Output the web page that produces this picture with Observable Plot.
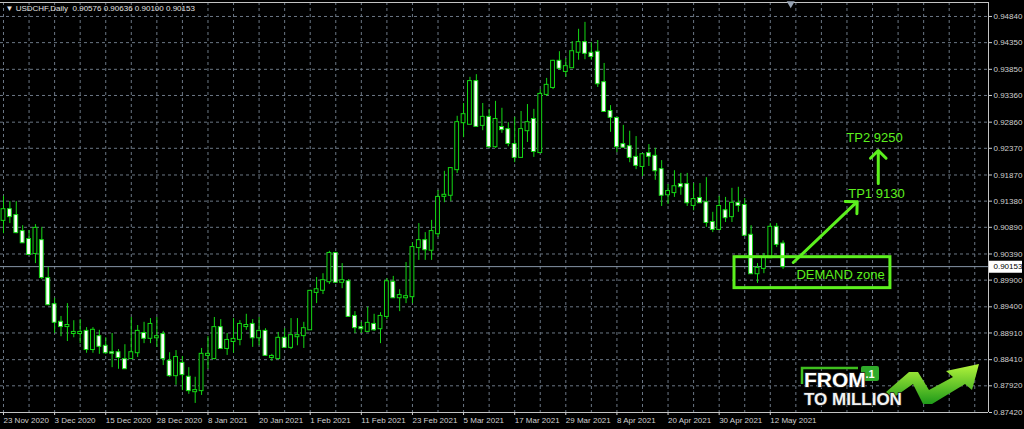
<!DOCTYPE html>
<html><head><meta charset="utf-8">
<script src="https://cdn.jsdelivr.net/npm/d3@7"></script>
<script src="https://cdn.jsdelivr.net/npm/@observablehq/plot@0.6"></script>
<style>
html,body{margin:0;padding:0;background:#000;}
#chart{width:1024px;height:429px;overflow:hidden;}
</style></head><body><div id="chart"></div>
<script>
// ---- data (daily USDCHF candles, 23 Nov 2020 .. 14 May 2021) ----
const symbolName = "USDCHF,Daily";
const opens = [
0.9102,0.9122,0.9111,0.9081,0.9066,0.9040,0.9064,0.8993,0.8944,0.8911,
0.8903,0.8890,0.8890,0.8894,0.8860,0.8884,0.8866,0.8854,0.8854,0.8841,
0.8843,0.8854,0.8890,0.8881,0.8882,0.8888,0.8838,0.8811,0.8834,0.8808,
0.8781,0.8783,0.8849,0.8843,0.8901,0.8862,0.8875,0.8879,0.8903,0.8907,
0.8882,0.8894,0.8845,0.8843,0.8881,0.8864,0.8884,0.8886,0.8897,0.8967,
0.8971,0.8987,0.9040,0.8986,0.8987,0.8922,0.8901,0.8894,0.8907,0.8899,
0.8922,0.8986,0.8957,0.8957,0.8959,0.9051,0.9064,0.9046,0.9077,0.9147,
0.9149,0.9197,0.9285,0.9282,0.9362,0.9280,0.9295,0.9240,0.9276,0.9272,
0.9244,0.9220,0.9270,0.9291,0.9229,0.9338,0.9351,0.9400,0.9381,0.9388,
0.9417,0.9435,0.9415,0.9417,0.9360,0.9306,0.9293,0.9244,0.9240,0.9220,
0.9203,0.9227,0.9222,0.9197,0.9150,0.9154,0.9169,0.9169,0.9130,0.9143,
0.9135,0.9098,0.9085,0.9120,0.9109,0.9134,0.9130,0.9074,0.9002,0.9012,
0.9032,0.9089,0.90576];
const highs = [
0.9147,0.9137,0.9137,0.9092,0.9083,0.9094,0.9089,0.9014,0.8956,0.8922,
0.8946,0.8914,0.8916,0.8901,0.8901,0.8896,0.8882,0.8890,0.8860,0.8869,
0.8920,0.8905,0.8911,0.8918,0.8920,0.8894,0.8854,0.8858,0.8847,0.8826,
0.8808,0.8862,0.8884,0.8920,0.8916,0.8890,0.8918,0.8914,0.8926,0.8916,
0.8920,0.8899,0.8851,0.8892,0.8899,0.8918,0.8918,0.8911,0.8971,0.8995,
0.9002,0.9044,0.9042,0.9021,0.8991,0.8931,0.8911,0.8939,0.8926,0.8929,
0.8993,0.8997,0.8972,0.9023,0.9060,0.9096,0.9079,0.9102,0.9158,0.9194,
0.9201,0.9297,0.9321,0.9370,0.9375,0.9321,0.9310,0.9325,0.9312,0.9285,
0.9295,0.9306,0.9319,0.9310,0.9347,0.9368,0.9402,0.9418,0.9405,0.9437,
0.9460,0.9473,0.9435,0.9439,0.9396,0.9317,0.9295,0.9280,0.9269,0.9259,
0.9225,0.9244,0.9237,0.9214,0.9169,0.9195,0.9190,0.9190,0.9171,0.9171,
0.9182,0.9117,0.9147,0.9145,0.9162,0.9164,0.9143,0.9092,0.9021,0.9040,
0.9096,0.9096,0.90636];
const lows = [
0.9077,0.9096,0.9077,0.9059,0.9036,0.9021,0.8991,0.8942,0.8890,0.8884,
0.8875,0.8882,0.8871,0.8853,0.8853,0.8851,0.8851,0.8826,0.8823,0.8824,
0.8843,0.8845,0.8871,0.8871,0.8864,0.8830,0.8808,0.8793,0.8783,0.8776,
0.8759,0.8774,0.8823,0.8841,0.8860,0.8849,0.8853,0.8867,0.8896,0.8864,
0.8867,0.8847,0.8838,0.8841,0.8862,0.8860,0.8867,0.8862,0.8896,0.8946,
0.8963,0.8982,0.8984,0.8974,0.8920,0.8890,0.8890,0.8892,0.8894,0.8871,
0.8916,0.8956,0.8931,0.8946,0.8946,0.9027,0.9027,0.9027,0.9070,0.9135,
0.9137,0.9190,0.9257,0.9282,0.9276,0.9270,0.9237,0.9237,0.9265,0.9240,
0.9210,0.9218,0.9248,0.9220,0.9227,0.9334,0.9347,0.9383,0.9370,0.9387,
0.9402,0.9403,0.9402,0.9351,0.9304,0.9267,0.9229,0.9237,0.9210,0.9197,
0.9184,0.9203,0.9177,0.9128,0.9132,0.9145,0.9149,0.9128,0.9120,0.9134,
0.9089,0.9079,0.9083,0.9098,0.9098,0.9117,0.9072,0.9001,0.8984,0.9002,
0.9031,0.9051,0.90100];
const closes = [
0.9122,0.9109,0.9079,0.9060,0.9038,0.9087,0.8995,0.8944,0.8911,0.8903,
0.8905,0.8892,0.8892,0.8860,0.8896,0.8866,0.8854,0.8853,0.8845,0.8824,
0.8854,0.8894,0.8881,0.8907,0.8884,0.8843,0.8811,0.8845,0.8813,0.8783,
0.8783,0.8851,0.8851,0.8901,0.8862,0.8877,0.8879,0.8907,0.8905,0.8882,
0.8894,0.8849,0.8847,0.8881,0.8864,0.8886,0.8886,0.8899,0.8969,0.8972,
0.8989,0.9040,0.8986,0.8989,0.8922,0.8901,0.8899,0.8909,0.8897,0.8922,
0.8987,0.8957,0.8961,0.8959,0.9051,0.9064,0.9047,0.9081,0.9145,0.9149,
0.9199,0.9285,0.9300,0.9362,0.9278,0.9295,0.9240,0.9291,0.9272,0.9246,
0.9220,0.9272,0.9285,0.9231,0.9338,0.9355,0.9400,0.9387,0.9390,0.9418,
0.9435,0.9415,0.9409,0.9358,0.9306,0.9295,0.9240,0.9239,0.9220,0.9205,
0.9225,0.9222,0.9195,0.9149,0.9156,0.9165,0.9165,0.9135,0.9141,0.9135,
0.9098,0.9085,0.9128,0.9107,0.9134,0.9130,0.9074,0.9002,0.9012,0.9032,
0.9089,0.9057,0.90153];
const dateLabels = ["23 Nov 2020","3 Dec 2020","15 Dec 2020","28 Dec 2020","8 Jan 2021","20 Jan 2021","1 Feb 2021","11 Feb 2021","23 Feb 2021","5 Mar 2021","17 Mar 2021","29 Mar 2021","8 Apr 2021","20 Apr 2021","30 Apr 2021","12 May 2021"];
const dateTickIdx = [0,8,16,24,32,40,48,56,64,72,80,88,96,104,112,120];
const priceTicks = [0.94840,0.94350,0.93850,0.93360,0.92860,0.92370,0.91870,0.91380,0.90890,0.90390,0.89900,0.89400,0.88910,0.88410,0.87920,0.87420];
// annotations (in bar index / price space)
const demandZone = [{x1:114.4, x2:138.8, top:0.9033, bottom:0.8975}];
const tpArrows = [{x1:123.6, y1:0.9023, x2:133.6, y2:0.9137},{x1:136.9, y1:0.9171, x2:136.9, y2:0.9233}];
const annLabels = [{x:124.1, y:0.9000, text:"DEMAND zone"},{x:132.2, y:0.9151, text:"TP1 9130"},{x:131.9, y:0.9256, text:"TP2 9250"}];

// ---- chart ----
const candles = opens.map((o, i) => ({i, open:o, high:highs[i], low:lows[i], close:closes[i]}));
const last = candles[candles.length - 1];
const lastPrice = last.close;
const xMin = -0.469, xMax = 154.15;
const yMin = 0.87420, yMax = 0.95102;
const green = "#14d814";
const gridC = "#6b7785";
const annGreen = "#5cf01e";
const gridIdx = d3.range(0, 155, 4);
const header = "\u25BC " + symbolName + "  " + [last.open, last.high, last.low, last.close].map(v => v.toFixed(5)).join(" ");

const fig = Plot.plot({
  width: 1024, height: 429,
  marginLeft: 0, marginRight: 36, marginTop: 2, marginBottom: 17,
  x: {domain: [xMin, xMax], axis: null},
  y: {domain: [yMin, yMax], axis: null},
  style: {background: "#000", color: "#d4d4d4", fontFamily: "'Liberation Sans', Arial, sans-serif", fontSize: "8px"},
  marks: [
    Plot.gridX(gridIdx, {stroke: gridC, strokeOpacity: 1, strokeDasharray: "3,3"}),
    Plot.gridY(priceTicks, {stroke: gridC, strokeOpacity: 1, strokeDasharray: "3,3"}),
    Plot.ruleY([lastPrice], {stroke: "#8796a8"}),
    Plot.ruleX(candles, {x: "i", y1: "low", y2: "high", stroke: green}),
    Plot.rect(candles, {x1: d => d.i - 0.3, x2: d => d.i + 0.3, y1: "open", y2: "close", insetTop: -0.5, insetBottom: -0.5,
      fill: d => d.close >= d.open ? "#000" : "#fff", stroke: green}),
    Plot.ruleY([yMin, yMax], {stroke: "#c4c4c4"}),
    Plot.ruleX([xMax], {stroke: "#c4c4c4"}),
    Plot.axisY(priceTicks, {anchor: "right", tickSize: 3, tickPadding: 2, tickFormat: d => d.toFixed(5), color: "#d0d0d0", fontSize: 8}),
    Plot.axisX(dateTickIdx, {anchor: "bottom", tickSize: 3, tickPadding: 2, tickFormat: d => dateLabels[dateTickIdx.indexOf(d)], textAnchor: "start", dx: 0, color: "#d0d0d0", fontSize: 8}),
    Plot.ruleY([lastPrice], {x1: xMax, x2: xMax, insetLeft: 1, insetRight: -34, stroke: "#fff", strokeWidth: 12}),
    Plot.text([lastPrice], {x: xMax, y: d => d, text: d => d.toFixed(5), dx: 5, textAnchor: "start", fill: "#000", fontSize: 8}),
    Plot.rect(demandZone, {x1: "x1", x2: "x2", y1: "bottom", y2: "top", fill: "none", stroke: annGreen, strokeWidth: 3}),
    Plot.arrow(tpArrows, {x1: "x1", y1: "y1", x2: "x2", y2: "y2", stroke: annGreen, strokeWidth: 3, headLength: 6, headAngle: 90}),
    Plot.text(annLabels, {x: "x", y: "y", text: "text", fill: annGreen, fontSize: 13, textAnchor: "start"}),
    Plot.text([header], {frameAnchor: "top-left", dx: 5, dy: 3, text: d => d, fill: "#e0e0e0", fontSize: 8, lineAnchor: "top"}),
    Plot.dot([123.2], {x: d => d, y: yMax, symbol: "triangle", rotate: 180, r: 3, fill: "#97a3b3", dy: 1})
  ]
});

// logo watermark (bottom-right)
const svg = d3.select(fig);
const defs = svg.append("defs");
const grad = defs.append("linearGradient").attr("id", "lg").attr("x1", 0).attr("y1", 0).attr("x2", 0).attr("y2", 1);
grad.append("stop").attr("offset", "0%").attr("stop-color", "#b4f53c");
grad.append("stop").attr("offset", "100%").attr("stop-color", "#1f9a1a");
const g = svg.append("g").attr("text-anchor", "start");
g.append("path").attr("d", "M886,392 L909,372 L918,372 L929,390 L953,377 L946,371 L979,364 L972,390 L965,384 L932,404 L923,404 L913,384 L893,398 Z")
  .attr("fill", "url(#lg)");
g.append("path").attr("d", "M802,384 V368 H858").attr("fill", "none").attr("stroke", "#3fbf1f").attr("stroke-width", 2.5);
g.append("rect").attr("x", 861).attr("y", 366).attr("width", 18).attr("height", 15).attr("rx", 2).attr("fill", "#2faa2a");
g.append("text").attr("x", 870).attr("y", 378).attr("text-anchor", "middle").attr("fill", "#fff").attr("font-weight", "bold").attr("font-size", 11).attr("font-family", "'Liberation Sans', Arial").text(".1");
g.append("text").attr("x", 804).attr("y", 387).attr("text-anchor", "start").attr("fill", "#fff").attr("stroke", "#222").attr("stroke-width", 1.5).attr("paint-order", "stroke")
  .attr("font-weight", "bold").attr("font-size", 21).attr("font-family", "'Liberation Sans', Arial").text("FROM");
g.append("text").attr("x", 804).attr("y", 405).attr("text-anchor", "start").attr("fill", "#f2f2f2").attr("stroke", "#222").attr("stroke-width", 1.5).attr("paint-order", "stroke")
  .attr("font-weight", "bold").attr("font-size", 17).attr("font-family", "'Liberation Sans', Arial").text("TO MILLION");

document.getElementById("chart").appendChild(fig);
</script>
</body></html>
